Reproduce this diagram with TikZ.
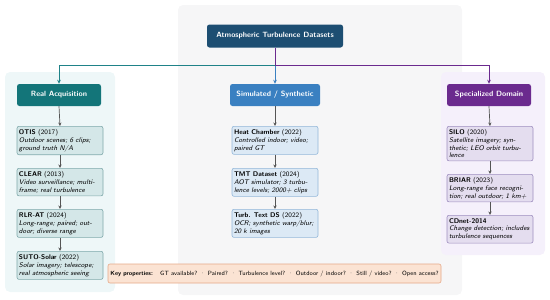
\documentclass[tikz,border=0pt]{standalone}
\usetikzlibrary{arrows.meta}
\definecolor{rootc}{HTML}{1D4E72}
\definecolor{tealc}{HTML}{137579}
\definecolor{tealL}{HTML}{1F8288}
\definecolor{bluec}{HTML}{3A80C1}
\definecolor{purpc}{HTML}{6B2A8E}
\definecolor{panL}{HTML}{EEF7F8}
\definecolor{panC}{HTML}{F6F6F7}
\definecolor{panR}{HTML}{F5F0FB}
\definecolor{lfT}{HTML}{D4E7E8}
\definecolor{bdT}{HTML}{7FA9AB}
\definecolor{lfB}{HTML}{DCE9F5}
\definecolor{bdB}{HTML}{93B7D9}
\definecolor{lfP}{HTML}{E4DDEF}
\definecolor{bdP}{HTML}{9F8FBF}
\definecolor{keyF}{HTML}{FBE3D3}
\definecolor{keyD}{HTML}{E6A988}
\definecolor{arrg}{HTML}{555555}
\newcommand{\keysep}{\hspace{0.45em}{\color{arrg}\textperiodcentered}\hspace{0.45em}}
\begin{document}
\begin{tikzpicture}[x=1pt,y=-1pt,font=\sffamily,
  panel/.style={rounded corners=5pt,draw=none},
  head/.style={rounded corners=2.5pt,text=white,inner sep=0pt,minimum height=22pt,
    font=\sffamily\bfseries\fontsize{7.6}{9}\selectfont},
  leaf/.style={rounded corners=2pt,draw,line width=0.6pt,text width=82pt,inner xsep=2pt,
    inner ysep=3pt,align=left,anchor=north,font=\sffamily\fontsize{6.8}{7.8}\selectfont},
  tleaf/.style={leaf,fill=lfT,draw=bdT},
  bleaf/.style={leaf,fill=lfB,draw=bdB},
  pleaf/.style={leaf,fill=lfP,draw=bdP},
  link/.style={line width=0.9pt,-{Stealth[length=4pt,width=3.6pt]}},
  sub/.style={draw=arrg,line width=0.7pt,-{Stealth[length=3.5pt,width=3.2pt]}}]
\useasboundingbox (0,0) rectangle (550,300);
% panels
\fill[panel,panC] (178,5) rectangle (462,295);
\fill[panel,panL] (5,72) rectangle (115,292);
\fill[panel,panR] (441,72) rectangle (545,255);
% heads
\node[head,fill=rootc,minimum width=136pt,minimum height=23pt] (root) at (275,36) {Atmospheric Turbulence Datasets};
\node[head,fill=tealc,minimum width=84pt] (real) at (59,95) {Real Acquisition};
\node[head,fill=bluec,minimum width=90pt] (sim) at (275,95) {Simulated / Synthetic};
\node[head,fill=purpc,minimum width=84pt] (spec) at (489,95) {Specialized Domain};
\coordinate (j) at (275,65);
\draw[link,tealL] (root.south) -- (j) -| (real.north);
\draw[link,bluec] (j) -| (sim.north);
\draw[link,purpc] (root.south) -- (j) -| (spec.north);
% left column
\node[tleaf] (otis) at (60,126) {\textbf{OTIS} (2017)\\\textit{Outdoor scenes; 6 clips;}\\\textit{ground truth N/A}};
\node[tleaf] (clear) at (60,168) {\textbf{CLEAR} (2013)\\\textit{Video surveillance; multi-}\\\textit{frame; real turbulence}};
\node[tleaf] (rlr) at (60,209) {\textbf{RLR-AT} (2024)\\\textit{Long-range; paired; out-}\\\textit{door; diverse range}};
\node[tleaf] (suto) at (60,251) {\textbf{SUTO-Solar} (2022)\\\textit{Solar imagery; telescope;}\\\textit{real atmospheric seeing}};
\draw[sub] (real.south) -- (otis.north);
\draw[sub] (otis.south) -- (clear.north);
\draw[sub] (clear.south) -- (rlr.north);
\draw[sub] (rlr.south) -- (suto.north);
% center column
\node[bleaf] (heat) at (275,126) {\textbf{Heat Chamber} (2022)\\\textit{Controlled indoor; video;}\\\textit{paired GT}};
\node[bleaf] (tmt) at (275,168) {\textbf{TMT Dataset} (2024)\\\textit{AOT simulator; 3 turbu-}\\\textit{lence levels; 2000+ clips}};
\node[bleaf] (turb) at (275,209) {\textbf{Turb. Text DS} (2022)\\\textit{OCR; synthetic warp/blur;}\\\textit{20 k images}};
\draw[sub] (sim.south) -- (heat.north);
\draw[sub] (heat.south) -- (tmt.north);
\draw[sub] (tmt.south) -- (turb.north);
% right column
\node[pleaf] (silo) at (490,126) {\textbf{SILO} (2020)\\\textit{Satellite imagery; syn-}\\\textit{thetic; LEO orbit turbu-}\\\textit{lence}};
\node[pleaf] (briar) at (490,174) {\textbf{BRIAR} (2023)\\\textit{Long-range face recogni-}\\\textit{tion; real outdoor; 1 km+}};
\node[pleaf] (cdnet) at (490,215) {\textbf{CDnet-2014}\\\mbox{\textit{Change detection; includes}}\\\textit{turbulence sequences}};
\draw[sub] (spec.south) -- (silo.north);
\draw[sub] (silo.south) -- (briar.north);
\draw[sub] (briar.south) -- (cdnet.north);
% key box
\node[rounded corners=2pt,fill=keyF,draw=keyD,line width=0.6pt,minimum width=333pt,minimum height=19pt,inner sep=0pt,
  font=\sffamily\fontsize{6.1}{7}\selectfont] (key) at (274.5,273.5)
  {\textbf{Key properties:}\hspace{1.2em}GT available?\keysep Paired?\keysep Turbulence level?\keysep Outdoor / indoor?\keysep Still / video?\keysep Open access?};
\end{tikzpicture}
\end{document}
